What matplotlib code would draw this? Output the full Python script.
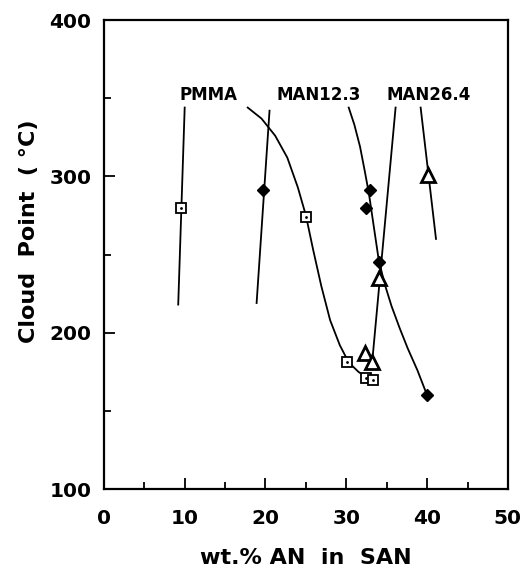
import matplotlib
matplotlib.use("Agg")
import matplotlib.pyplot as plt
from matplotlib.ticker import MultipleLocator

plt.rcParams['font.family'] = ['DejaVu Sans']
plt.rcParams['font.weight'] = 'bold'

# cloud point data (wt.% AN, cloud point in C)
pmma_x = [9.5, 25.0, 30.1, 32.4, 33.3]
pmma_y = [280, 274, 181, 171, 170]
man12_x = [19.7, 32.9, 32.4, 34.0, 40.0]
man12_y = [291, 291, 280, 245, 160]
man26_x = [34.0, 40.1, 32.3, 33.2]
man26_y = [235, 301, 187, 181]

# curves
pmma_curve_x = [17.8, 19.5, 21.2, 22.7, 24.0, 25.0, 25.9, 26.9, 28.0, 29.2, 30.3, 31.5, 32.6, 33.3]
pmma_curve_y = [344, 337, 326, 312, 293, 275, 253, 230, 208, 192, 181, 175, 171, 170]
man12_curve_x = [30.3, 31.0, 31.7, 32.3, 32.8, 33.4, 34.0, 34.7, 35.6, 36.6, 37.6, 38.8, 40.0]
man12_curve_y = [344, 333, 319, 303, 289, 268, 247, 232, 217, 203, 190, 176, 160]

# leader / tie lines
leaders = [
    ([10.0, 9.2], [344, 218]),
    ([20.5, 18.9], [342, 219]),
    ([36.1, 33.2], [344, 181]),
    ([39.2, 41.1], [344, 260]),
]

labels = ["PMMA", "MAN12.3", "MAN26.4"]
label_x = [12.9, 26.6, 40.2]
label_y = [352, 352, 352]

fig = plt.figure(figsize=(5.22, 5.72), dpi=100)
ax = fig.add_axes([0.199, 0.145, 0.774, 0.820])

ax.plot(pmma_curve_x, pmma_curve_y, color='black', lw=1.3)
ax.plot(man12_curve_x, man12_curve_y, color='black', lw=1.3)
for lx, ly in leaders:
    ax.plot(lx, ly, color='black', lw=1.3)

ax.plot(pmma_x, pmma_y, 's', ms=6.5, mfc='white', mec='black', mew=1.3)
ax.plot(pmma_x, pmma_y, '.', ms=2, color='black')
ax.plot(man12_x, man12_y, 'D', ms=6, color='black')
ax.plot(man26_x, man26_y, '^', ms=10, mfc='white', mec='black', mew=2)

for t, x, y in zip(labels, label_x, label_y):
    ax.text(x, y, t, ha='center', va='center', fontsize=12, fontweight='bold')

ax.set_xlim(0, 50)
ax.set_ylim(100, 400)
ax.xaxis.set_major_locator(MultipleLocator(10))
ax.xaxis.set_minor_locator(MultipleLocator(5))
ax.yaxis.set_major_locator(MultipleLocator(100))
ax.yaxis.set_minor_locator(MultipleLocator(50))
ax.tick_params(which='both', direction='in', top=False, right=False, width=1.3)
ax.tick_params(which='major', length=8, labelsize=14.5)
ax.tick_params(which='minor', length=5)
ax.tick_params(axis='x', pad=14)
ax.tick_params(axis='y', pad=9)
for s in ax.spines.values():
    s.set_linewidth(1.6)

ax.set_xlabel("wt.% AN  in  SAN", fontsize=16, fontweight='bold', labelpad=15)
ax.set_ylabel("Cloud  Point  ( °C)", fontsize=16, fontweight='bold')
ax.yaxis.set_label_coords(-0.16, 0.55)

fig.savefig("out.png", dpi=100)
